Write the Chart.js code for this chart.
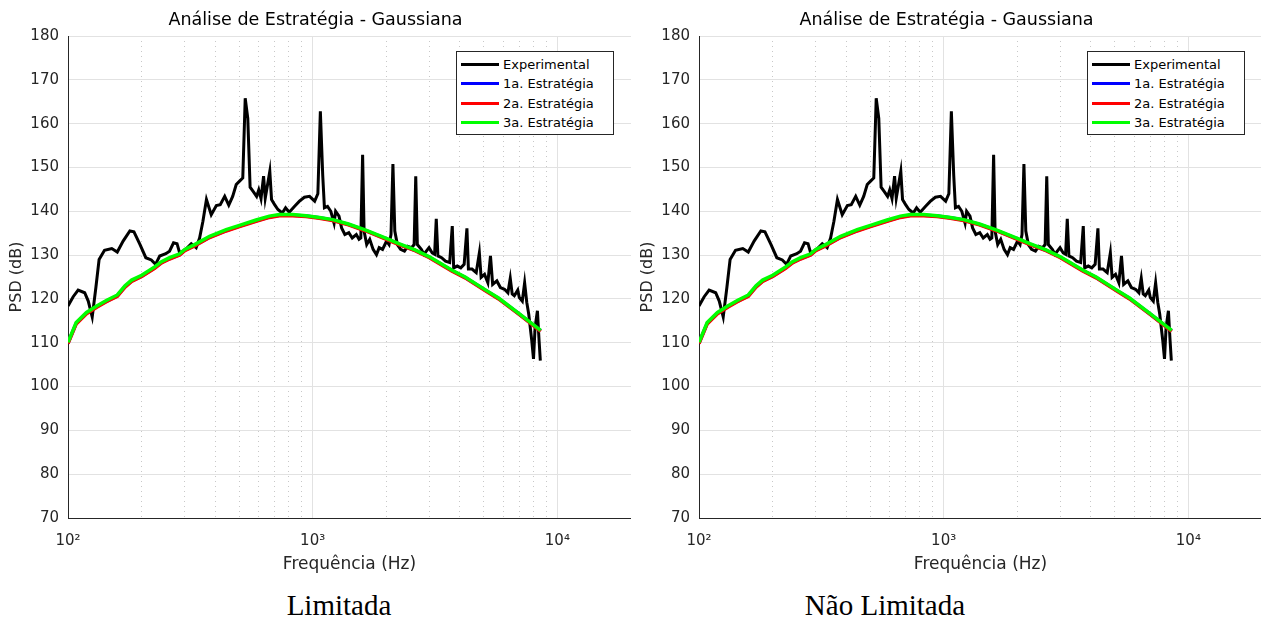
<!DOCTYPE html>
<html>
<head>
<meta charset="utf-8">
<script src="https://cdn.jsdelivr.net/npm/chart.js@4.4.0/dist/chart.umd.min.js"></script>
<style>
body { margin: 0; background: #fff; width: 1261px; height: 618px; overflow: hidden; position: relative; font-family: "DejaVu Sans", sans-serif; }
.panel { position: absolute; top: 0; width: 631px; height: 580px; }
.panel canvas { position: absolute; left: 0; top: 0; }
.legend { position: absolute; left: 456px; top: 51px; width: 158px; height: 84px; border: 1px solid #262626; background: #fff; box-sizing: border-box; padding-top: 3px; }
.legend .row { height: 19.3px; display: flex; align-items: center; font-size: 13px; color: #000; white-space: nowrap; }
.legend .sw { width: 38px; height: 3px; margin-left: 4px; margin-right: 4px; }
.caption { position: absolute; top: 588px; font-family: "Liberation Serif", "Times New Roman", serif; font-size: 29px; line-height: 34px; white-space: nowrap; transform: translateX(-50%); color: #000; }
</style>
</head>
<body>
<div class="panel" style="left:0px"><canvas id="c1" width="631" height="580"></canvas><div class="legend" id="l1"></div></div>
<div class="panel" style="left:631px"><canvas id="c2" width="631" height="580"></canvas><div class="legend" id="l2"></div></div>
<div class="caption" style="left:339px">Limitada</div>
<div class="caption" style="left:885px">Não Limitada</div>
<script>
// Experimental PSD
const expFreq = [100, 105, 110, 117, 121, 125.6, 130, 134, 141, 151, 159, 168, 179, 186, 197, 208, 219, 228, 237, 251,
  260, 270, 279, 286, 300, 319, 334, 345, 356, 368, 385, 404, 419, 437, 454, 471, 487, 505, 518, 530,
  543, 555, 572, 590, 602, 615, 630, 640, 668, 679, 699, 721, 751, 775, 802, 842, 883, 925, 971, 1019,
  1050, 1075, 1099, 1117, 1150, 1186, 1223, 1241, 1281, 1313, 1354, 1405, 1451, 1508, 1547, 1573, 1600, 1622, 1663, 1711,
  1766, 1823, 1870, 1930, 2005, 2052, 2090, 2128, 2166, 2219, 2287, 2372, 2444, 2535, 2598, 2638, 2678, 2780, 2850, 2990,
  3080, 3150, 3200, 3250, 3365, 3490, 3630, 3720, 3770, 3900, 4030, 4160, 4270, 4330, 4480, 4660, 4800, 4880, 5040, 5200,
  5330, 5440, 5660, 5850, 6080, 6280, 6420, 6540, 6670, 6890, 6990, 7190, 7350, 7500, 7640, 7860, 7990, 8110, 8290, 8420, 8520];
const expPsd = [118.4, 120.5, 122.0, 121.4, 119.5, 115.9, 122.6, 129.0, 131.1, 131.5, 130.7, 133.2, 135.5, 135.3, 132.4, 129.4, 128.9, 127.9, 129.8, 130.3,
  130.9, 132.8, 132.6, 130.5, 131.1, 132.6, 131.7, 133.9, 137.7, 142.7, 139.2, 141.3, 141.5, 143.4, 141.4, 143.4, 146.1, 147.0, 147.6, 165.8,
  161.2, 145.5, 144.5, 143.4, 144.9, 142.9, 148.0, 143.0, 149.1, 142.7, 141.5, 140.4, 139.6, 140.8, 139.8, 141.1, 142.3, 143.2, 143.4, 142.3,
  144.0, 162.8, 148.3, 140.8, 141.1, 140.0, 137.3, 140.0, 138.9, 136.2, 134.7, 135.1, 133.9, 134.7, 133.6, 133.9, 152.9, 135.5, 132.4, 133.6,
  131.3, 130.1, 131.7, 131.3, 133.2, 132.4, 134.7, 150.8, 135.5, 132.4, 131.3, 130.9, 132.0, 131.7, 132.4, 148.0, 132.4, 131.3, 130.2, 131.7,
  130.5, 130.2, 138.3, 129.8, 129.4, 128.6, 128.3, 136.6, 127.1, 127.5, 127.1, 127.9, 136.1, 126.8, 126.8, 126.0, 130.5, 124.9, 125.6, 123.7,
  129.8, 123.3, 124.1, 122.6, 122.2, 121.4, 124.7, 121.1, 120.7, 122.0, 120.3, 119.5, 123.7, 119.2, 116.5, 110.5, 106.3, 113.5, 117.3, 110.5, 105.9];

// Fitted curves (three strategies, nearly coincident)
const fitFreq = [100, 108, 119, 131, 144, 159, 171, 182, 200, 226, 241, 260, 286, 300, 329, 379, 443, 502, 587, 665,
  731, 829, 940, 1065, 1208, 1400, 1650, 2000, 2250, 2620, 3000, 3700, 4200, 5100, 5750, 7000, 8550];
const fit1 = [109.9, 114.4, 116.7, 118.2, 119.5, 120.7, 122.8, 124.1, 125.2, 127.1, 128.3, 129.2, 130.1, 131.1, 132.2, 134.1, 135.6, 136.6, 137.8, 138.7,
  139.1, 139.1, 138.9, 138.5, 138.0, 137.0, 135.6, 133.7, 132.5, 131.1, 129.5, 126.5, 124.9, 121.9, 120.1, 116.5, 112.7];
const fit2 = [109.8, 114.3, 116.6, 118.1, 119.4, 120.6, 122.7, 124.0, 125.1, 127.0, 128.2, 129.1, 130.0, 131.0, 132.1, 134.0, 135.5, 136.5, 137.7, 138.6,
  139.0, 139.0, 138.8, 138.4, 137.9, 136.9, 135.5, 133.6, 132.4, 131.0, 129.4, 126.4, 124.8, 121.8, 120.0, 116.4, 112.6];
const fit3 = [110.1, 114.6, 116.9, 118.4, 119.7, 120.9, 123.0, 124.3, 125.4, 127.3, 128.5, 129.4, 130.3, 131.3, 132.4, 134.3, 135.8, 136.8, 138.0, 138.9,
  139.25, 139.25, 139.0, 138.6, 138.1, 137.1, 135.7, 133.8, 132.6, 131.2, 129.6, 126.6, 125.0, 122.0, 120.2, 116.6, 112.8];

const seriesLabels = ['Experimental', '1a. Estratégia', '2a. Estratégia', '3a. Estratégia'];
const seriesColors = ['#000000', '#0000ff', '#ff0000', '#00ff00'];

const majorTicks = [100, 1000, 10000];
const majorLabels = ['10²', '10³', '10⁴'];
const minorTicks = [200, 300, 400, 500, 600, 700, 800, 900, 2000, 3000, 4000, 5000, 6000, 7000, 8000, 9000];

const FONT = 'DejaVu Sans';
const TXT = '#262626';

function pts(xs, ys) {
    return xs.map((x, i) => ({ x: x, y: ys[i] }));
}

function makeChart(canvasId, legendId) {
    const datasets = [
        { data: pts(expFreq, expPsd), order: 3 },
        { data: pts(fitFreq, fit1), order: 2 },
        { data: pts(fitFreq, fit2), order: 1 },
        { data: pts(fitFreq, fit3), order: 0 }
    ].map((d, i) => Object.assign(d, {
        label: seriesLabels[i],
        borderColor: seriesColors[i],
        backgroundColor: seriesColors[i],
        borderWidth: i === 0 ? 3 : 3.5,
        pointRadius: 0,
        tension: 0,
        fill: false
    }));

    const chart = new Chart(document.getElementById(canvasId), {
        type: 'line',
        data: { datasets: datasets },
        options: {
            responsive: false,
            animation: false,
            devicePixelRatio: 1,
            layout: { padding: 0 },
            plugins: {
                legend: { display: false },
                tooltip: { enabled: false },
                title: {
                    display: true,
                    text: 'Análise de Estratégia - Gaussiana',
                    color: '#000',
                    font: { family: FONT, size: 17.5, weight: 'normal' },
                    padding: { top: 10, bottom: 5 }
                }
            },
            scales: {
                x: {
                    type: 'logarithmic',
                    position: 'bottom',
                    min: 100,
                    max: 20000,
                    afterBuildTicks: s => { s.ticks = majorTicks.map(v => ({ value: v })); },
                    afterFit: s => { s.height = 62; },
                    ticks: {
                        autoSkip: false,
                        maxRotation: 0,
                        padding: 14,
                        color: TXT,
                        font: { family: FONT, size: 15 },
                        callback: v => majorLabels[majorTicks.indexOf(v)]
                    },
                    grid: { color: '#e2e2e2', drawTicks: false },
                    border: { color: TXT },
                    title: {
                        display: true,
                        text: 'Frequência (Hz)',
                        color: TXT,
                        font: { family: FONT, size: 17 },
                        padding: { top: 0, bottom: 5 }
                    }
                },
                xMinor: {
                    type: 'logarithmic',
                    position: 'top',
                    min: 100,
                    max: 20000,
                    afterBuildTicks: s => { s.ticks = minorTicks.map(v => ({ value: v })); },
                    afterFit: s => { s.height = 0; },
                    ticks: { display: false },
                    grid: { color: '#c8c8c8', drawTicks: false },
                    border: { display: false, dash: [1, 4] }
                },
                y: {
                    min: 70,
                    max: 180,
                    afterFit: s => { s.width = 68; },
                    ticks: {
                        stepSize: 10,
                        padding: 9,
                        color: TXT,
                        font: { family: FONT, size: 15 }
                    },
                    grid: { color: '#e2e2e2', drawTicks: false },
                    border: { color: TXT },
                    title: {
                        display: true,
                        text: 'PSD (dB)',
                        color: TXT,
                        font: { family: FONT, size: 16 },
                        padding: { top: 7, bottom: 0 }
                    }
                }
            }
        }
    });

    // legend box inside the plot, same order as the datasets
    const box = document.getElementById(legendId);
    chart.data.datasets.forEach(ds => {
        const row = document.createElement('div');
        row.className = 'row';
        const sw = document.createElement('span');
        sw.className = 'sw';
        sw.style.background = ds.borderColor;
        const txt = document.createElement('span');
        txt.textContent = ds.label;
        row.appendChild(sw);
        row.appendChild(txt);
        box.appendChild(row);
    });
    return chart;
}

makeChart('c1', 'l1');
makeChart('c2', 'l2');
</script>
</body>
</html>
